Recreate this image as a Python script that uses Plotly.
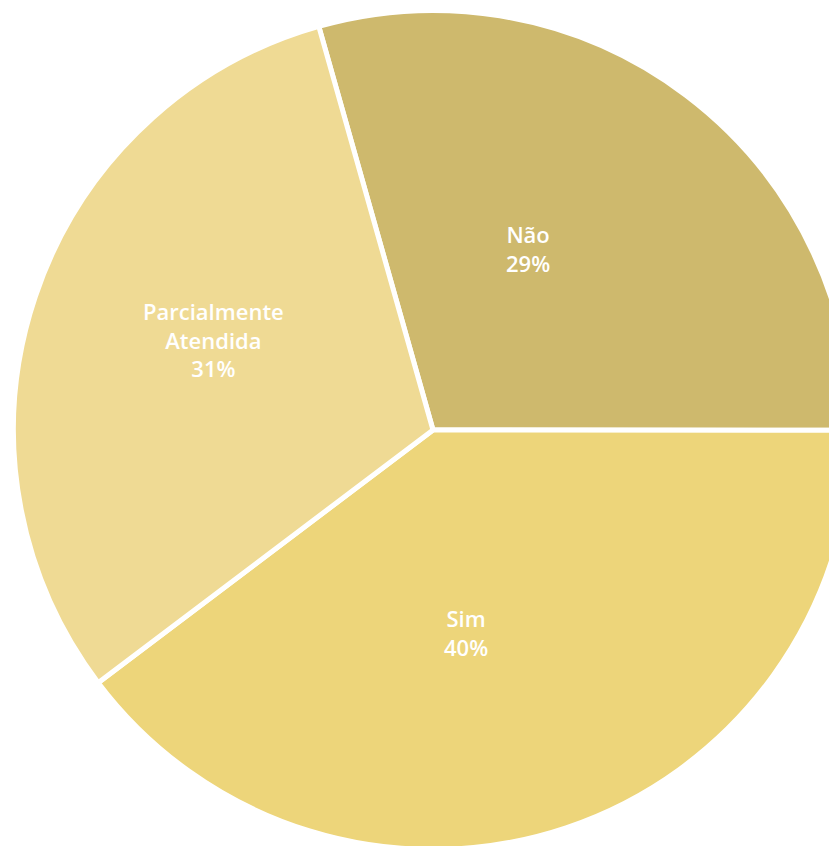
import plotly.graph_objects as go

labels = ["Não", "Sim", "Parcialmente<br>Atendida"]
values = [29.4, 39.7, 30.9]
colors = ["#CEB96D", "#EDD57A", "#EFDA94"]

W, H = 850, 844
# caption centres in page pixels (page has an 8px body offset)
label_px = [528, 466, 213]
label_py = [249, 632, 339]

total = sum(values)

fig = go.Figure(
    go.Pie(
        labels=labels,
        values=values,
        sort=False,
        direction="clockwise",
        rotation=-15.8,
        marker=dict(colors=colors, line=dict(color="white", width=5)),
        textinfo="none",
        hoverinfo="label+percent",
        showlegend=False,
        domain=dict(x=[0.0065, 0.9935], y=[0, 1]),
    )
)

for lab, v, px, py in zip(labels, values, label_px, label_py):
    fig.add_annotation(
        x=(px - 8) / W, y=1 - (py - 8) / H, xref="paper", yref="paper",
        text=f"{lab}<br>{round(100 * v / total)}%",
        showarrow=False,
        font=dict(family="Open Sans", size=22, color="white", weight=600),
        xanchor="center", yanchor="middle", align="center",
    )

fig.update_layout(
    width=W,
    height=H,
    margin=dict(l=0, r=0, t=0, b=0),
    paper_bgcolor="white",
    plot_bgcolor="white",
)

fig.write_html(
    "out.html",
    config={"displayModeBar": False},
    post_script="document.documentElement.style.overflow='hidden';document.body.style.overflow='hidden';",
)
